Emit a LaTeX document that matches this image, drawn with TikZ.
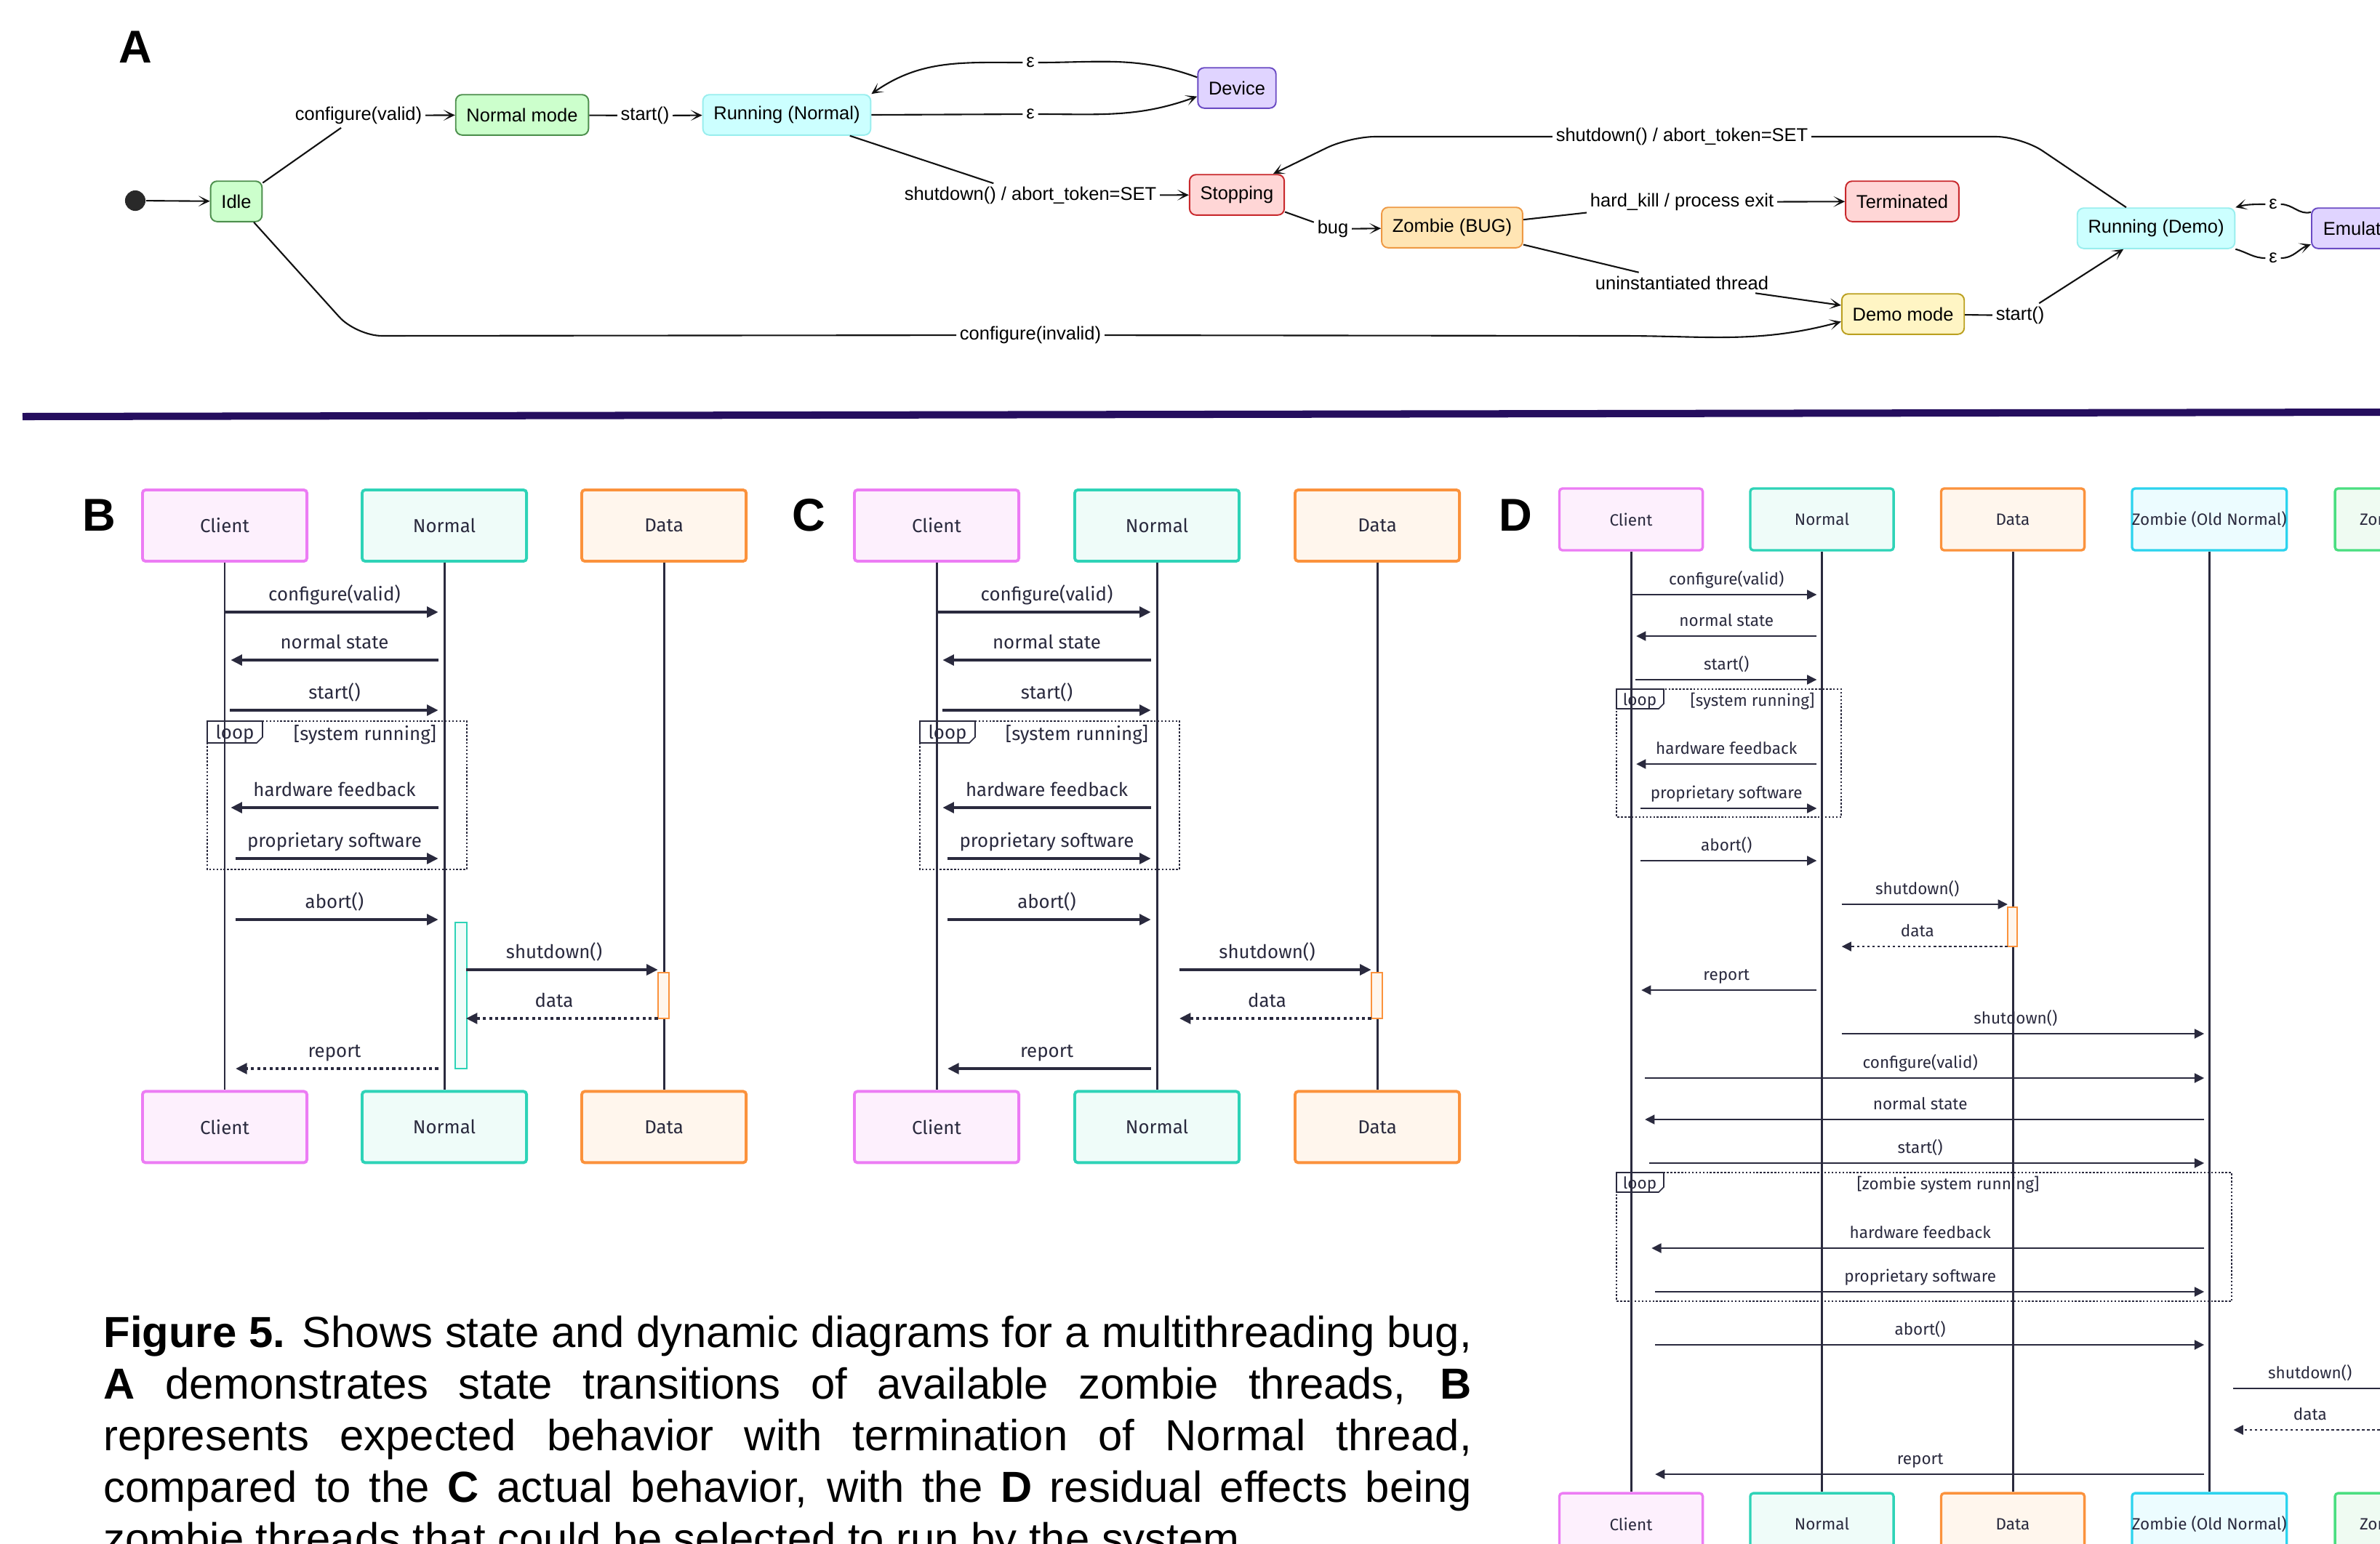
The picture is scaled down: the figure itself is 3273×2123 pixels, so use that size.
\documentclass[tikz,border=0pt]{standalone}
\usepackage{fontspec}
\setmainfont{Liberation Sans}
\newfontfamily\seqfont{Fira Sans}
\usetikzlibrary{arrows.meta,positioning}

\definecolor{ink}{HTML}{111111}
\definecolor{gfill}{HTML}{CCFFCC}
\definecolor{gdraw}{HTML}{4D8F4D}
\definecolor{cfill}{HTML}{CCFFFF}
\definecolor{cdraw}{HTML}{99EEEE}
\definecolor{vfill}{HTML}{E0D4FF}
\definecolor{vdraw}{HTML}{6A4BC4}
\definecolor{rfill}{HTML}{FFD6D6}
\definecolor{rdraw}{HTML}{C8282C}
\definecolor{ofill}{HTML}{FFE5B4}
\definecolor{odraw}{HTML}{EE9944}
\definecolor{yfill}{HTML}{FFF5C4}
\definecolor{ydraw}{HTML}{BBA020}
\definecolor{divider}{HTML}{250E5E}
\definecolor{seqink}{HTML}{2A2A3E}
\definecolor{clidraw}{HTML}{EC7CF4}
\definecolor{clifill}{HTML}{FDF0FD}
\definecolor{nordraw}{HTML}{2ED3B7}
\definecolor{norfill}{HTML}{EFFCF9}
\definecolor{datdraw}{HTML}{FB923C}
\definecolor{datfill}{HTML}{FFF6ED}
\definecolor{zodraw}{HTML}{2CD3EE}
\definecolor{zofill}{HTML}{ECFCFF}
\definecolor{zndraw}{HTML}{4ADE80}
\definecolor{znfill}{HTML}{EFFBF2}

\tikzset{
  stbox/.style={rectangle, draw, rounded corners=2.5pt, line width=0.55pt, minimum height=15.8pt, inner xsep=4.2pt, inner ysep=0pt, font=\fontsize{7.25}{8.5}\selectfont},
  stgreen/.style={stbox, fill=gfill, draw=gdraw},
  stcyan/.style={stbox, fill=cfill, draw=cdraw},
  stviolet/.style={stbox, fill=vfill, draw=vdraw},
  stred/.style={stbox, fill=rfill, draw=rdraw},
  storange/.style={stbox, fill=ofill, draw=odraw},
  styellow/.style={stbox, fill=yfill, draw=ydraw},
  trlbl/.style={inner sep=1.2pt, font=\fontsize{7.25}{8.5}\selectfont},
  tr/.style={line width=0.6pt, draw=ink},
  arr/.style={tr, -{Stealth[length=4.5pt,width=4.2pt,inset=2.6pt]}},
  panel/.style={inner sep=0pt, font=\bfseries\fontsize{18}{18}\selectfont},
  actor/.style={rectangle, draw, line width=1.1pt, rounded corners=1.2pt, minimum width=2.26cm, minimum height=0.98cm, inner sep=0pt, text=seqink, font=\seqfont\fontsize{7.35}{9}\selectfont},
  cliact/.style={actor, draw=clidraw, fill=clifill},
  noract/.style={actor, draw=nordraw, fill=norfill},
  datact/.style={actor, draw=datdraw, fill=datfill},
  dactor/.style={actor, minimum width=1.97cm, minimum height=0.85cm, line width=0.95pt, font=\seqfont\fontsize{6.4}{8}\selectfont},
  dcli/.style={dactor, draw=clidraw, fill=clifill},
  dnor/.style={dactor, draw=nordraw, fill=norfill},
  ddat/.style={dactor, draw=datdraw, fill=datfill},
  dzold/.style={dactor, minimum width=2.10cm, draw=zodraw, fill=zofill},
  dznew/.style={dactor, draw=zndraw, fill=znfill, text width=1.4cm, align=left, inner xsep=0.34cm},
  life/.style={draw=seqink, line width=0.85pt},
  msg/.style={draw=seqink, line width=0.95pt, shorten >=2.4pt, -{Triangle[length=4.4pt,width=4.2pt]}},
  ret/.style={msg, dash pattern=on 1.2pt off 1.2pt},
  msglbl/.style={midway, anchor=base, inner sep=0pt, text=seqink},
  lab/.style={msglbl, yshift=4.3pt, font=\seqfont\fontsize{7.35}{9}\selectfont},
  dmsg/.style={msg, line width=0.8pt, shorten >=2pt, -{Triangle[length=3.8pt,width=3.6pt]}},
  dret/.style={dmsg, dash pattern=on 1pt off 1pt},
  dlab/.style={msglbl, yshift=3.8pt, font=\seqfont\fontsize{6.4}{8}\selectfont},
  loopbox/.style={draw=seqink, line width=0.6pt, dash pattern=on 0.7pt off 0.7pt},
  looptab/.style={draw=seqink, line width=0.45pt},
  looptxt/.style={inner sep=0pt, text=seqink, font=\seqfont\fontsize{7.35}{9}\selectfont},
  dlooptxt/.style={looptxt, font=\seqfont\fontsize{6.4}{8}\selectfont},
  actnor/.style={draw=nordraw, fill=norfill, line width=0.5pt},
  actdat/.style={draw=datdraw, fill=datfill, line width=0.5pt}
}

\begin{document}
\begin{tikzpicture}[x=0.01cm, y=-0.01cm]
\useasboundingbox (0,0) rectangle (3273,2123);
\clip (0,0) rectangle (3273,2123);
\fill[white] (0,0) rectangle (3273,2123);

% ---- A: state diagram
\node[panel] (labA) at (186,65) {A};
\node[circle, fill=ink!90, minimum size=8pt, inner sep=0pt] (init) at (186,276) {};
\node[stgreen] (idle) at (325,277) {Idle};
\node[stgreen] (normal) at (718,158) {Normal mode};
\node[stcyan] (runN) at (1082,158) {Running (Normal)};
\node[stviolet] (device) at (1701,121) {Device};
\node[stred] (stopping) at (1701,268) {Stopping};
\node[storange] (zombie) at (1997,313) {Zombie (BUG)};
\node[stred] (term) at (2616,277) {Terminated};
\node[styellow] (demo) at (2617,432) {Demo mode};
\node[stcyan] (runD) at (2965,314) {Running (Demo)};
\node[stviolet, anchor=west, text width=1.6cm, align=left, inner xsep=4.5pt] (emul) at (3178,314) {Emulat};

\node[trlbl] (lcv) at (493,159) {configure(valid)};
\node[trlbl] (lst) at (887,159) {start()};
\node[trlbl] (epst) at (1417,86) {ε};
\node[trlbl] (epsb) at (1417,157) {ε};
\node[trlbl] (lsd) at (1417,269) {shutdown() / abort\_token=SET};
\node[trlbl] (lsd2) at (2313,188) {shutdown() / abort\_token=SET};
\node[trlbl] (lbug) at (1833,315) {bug};
\node[trlbl] (lhk) at (2313,278) {hard\_kill / process exit};
\node[trlbl] (lun) at (2313,389) {uninstantiated thread};
\node[trlbl] (linv) at (1417,461) {configure(invalid)};
\node[trlbl] (lst2) at (2778,434) {start()};
\node[trlbl] (epst2) at (3126,281) {ε};
\node[trlbl] (epsb2) at (3126,355) {ε};
\coordinate (k1) at (2780,188);
\coordinate (k2) at (1856,188);
\coordinate (k3) at (490,462);
\coordinate (k4) at (2230,462);

\draw[arr] (init) -- (idle);
\draw[tr] (idle) -- (lcv);
\draw[arr] (lcv) -- (normal);
\draw[tr] (normal) -- (lst);
\draw[arr] (lst) -- (runN);
\draw[tr] (runN.east) -- (epsb);
\draw[arr] (epsb) to[out=0, in=200] (device.192);
\draw[tr] (device.165) to[out=160, in=0] (epst);
\draw[arr] (epst) to[out=180, in=35] (runN.north east);
\draw[tr] (runN) -- (lsd);
\draw[arr] (lsd) -- (stopping);
\draw[tr, rounded corners=10pt] (runD.145) -- (k1) -- (lsd2);
\draw[arr, rounded corners=10pt] (lsd2) -- (k2) -- (stopping.30);
\draw[tr] (stopping) -- (lbug);
\draw[arr] (lbug) -- (zombie);
\draw[tr] (zombie) -- (lhk);
\draw[arr] (lhk) -- (term);
\draw[tr] (zombie) -- (lun);
\draw[arr] (lun) -- (demo);
\draw[tr, rounded corners=10pt] (idle.-50) -- (k3) -- (linv);
\draw[arr] (linv) -- (k4) to[out=0, in=195] (demo.187);
\draw[tr] (demo) -- (lst2);
\draw[arr] (lst2) -- (runD);
\draw[tr] ([yshift=6.3pt]emul.west) to[out=195, in=0] (epst2);
\draw[arr] (epst2) to[out=180, in=15] (runD.north east);
\draw[tr] (runD.south east) to[out=-15, in=180] (epsb2);
\draw[arr] (epsb2) to[out=0, in=200] ([yshift=-6.3pt]emul.west);

% divider
\draw[divider, line width=2.85pt] (31,573) -- (3273,567);

% ---- B: expected behaviour
\node[panel] (labB) at (136,709) {B};
\node[cliact] (cliB) at (309,723) {Client};
\node[noract, right=0.72cm of cliB] (norB) {Normal};
\node[datact, right=0.72cm of norB] (datB) {Data};
\node[cliact, below=7.25cm of cliB] (cliBb) {Client};
\node[noract, below=7.25cm of norB] (norBb) {Normal};
\node[datact, below=7.25cm of datB] (datBb) {Data};
\draw[life] (cliB) -- (cliBb);
\draw[life] (norB) -- (norBb);
\draw[life] (datB) -- (datBb);

\draw[loopbox] (285,992) rectangle (642,1196);
\draw[looptab] (285,992) -- (361,992) -- (361,1014) -- (353,1022) -- (285,1022) -- cycle;
\node[looptxt] (loopB) at (323,1010) {loop};
\node[looptxt] (condB) at (502,1011) {[system running]};

\draw[actnor] (626,1269) rectangle (642,1470);
\draw[actdat] (905,1338) rectangle (920,1401);

\draw[msg] (cliB |- 0,842) -- (norB |- 0,842) node[lab] {configure(valid)};
\draw[msg, shorten <=2.4pt] (norB |- 0,908) -- (cliB |- 0,908) node[lab] {normal state};
\draw[msg, shorten <=2pt] (cliB |- 0,977) -- (norB |- 0,977) node[lab] {start()};
\draw[msg, shorten <=2.4pt] (norB |- 0,1111) -- (cliB |- 0,1111) node[lab] {hardware feedback};
\draw[msg, shorten <=4.3pt] (cliB |- 0,1181) -- (norB |- 0,1181) node[lab] {proprietary software};
\draw[msg, shorten <=4.3pt] (cliB |- 0,1265) -- (norB |- 0,1265) node[lab] {abort()};
\draw[msg, shorten <=8.5pt] (norB |- 0,1334) -- (datB |- 0,1334) node[lab] {shutdown()};
\draw[ret, shorten <=2.4pt, shorten >=8.5pt] (datB |- 0,1401) -- (norB |- 0,1401) node[lab] {data};
\draw[ret, shorten <=2.4pt, shorten >=4.3pt] (norB |- 0,1470) -- (cliB |- 0,1470) node[lab] {report};

% ---- C: actual behaviour
\node[panel] (labC) at (1112,709) {C};
\node[cliact] (cliC) at (1288,723) {Client};
\node[noract, right=0.73cm of cliC] (norC) {Normal};
\node[datact, right=0.73cm of norC] (datC) {Data};
\node[cliact, below=7.25cm of cliC] (cliCb) {Client};
\node[noract, below=7.25cm of norC] (norCb) {Normal};
\node[datact, below=7.25cm of datC] (datCb) {Data};
\draw[life] (cliC) -- (cliCb);
\draw[life] (norC) -- (norCb);
\draw[life] (datC) -- (datCb);

\draw[loopbox] (1265,992) rectangle (1622,1196);
\draw[looptab] (1265,992) -- (1341,992) -- (1341,1014) -- (1333,1022) -- (1265,1022) -- cycle;
\node[looptxt] (loopC) at (1303,1010) {loop};
\node[looptxt] (condC) at (1481,1011) {[system running]};

\draw[actdat] (1886,1338) rectangle (1901,1401);

\draw[msg] (cliC |- 0,842) -- (norC |- 0,842) node[lab] {configure(valid)};
\draw[msg, shorten <=2.4pt] (norC |- 0,908) -- (cliC |- 0,908) node[lab] {normal state};
\draw[msg, shorten <=2.4pt] (cliC |- 0,977) -- (norC |- 0,977) node[lab] {start()};
\draw[msg, shorten <=2.4pt] (norC |- 0,1111) -- (cliC |- 0,1111) node[lab] {hardware feedback};
\draw[msg, shorten <=4.3pt] (cliC |- 0,1181) -- (norC |- 0,1181) node[lab] {proprietary software};
\draw[msg, shorten <=4.3pt] (cliC |- 0,1265) -- (norC |- 0,1265) node[lab] {abort()};
\draw[msg, shorten <=8.8pt] (norC |- 0,1334) -- (datC |- 0,1334) node[lab] {shutdown()};
\draw[ret, shorten <=2.4pt, shorten >=8.8pt] (datC |- 0,1401) -- (norC |- 0,1401) node[lab] {data};
\draw[msg, shorten <=2.4pt, shorten >=4.3pt] (norC |- 0,1470) -- (cliC |- 0,1470) node[lab] {report};

% ---- D: residual zombie threads
\node[panel] (labD) at (2084,709) {D};
\node[dcli] (cliD) at (2243,714.5) {Client};
\node[dnor, right=0.62cm of cliD] (norD) {Normal};
\node[ddat, right=0.62cm of norD] (datD) {Data};
\node[dzold, right=0.62cm of datD] (zoD) {Zombie (Old Normal)};
\node[dznew, right=0.63cm of zoD] (znD) {Zom};
\node[dcli, below=12.93cm of cliD] (cliDb) {Client};
\node[dnor, below=12.93cm of norD] (norDb) {Normal};
\node[ddat, below=12.93cm of datD] (datDb) {Data};
\node[dzold, below=12.93cm of zoD] (zoDb) {Zombie (Old Normal)};
\node[dznew, below=12.93cm of znD] (znDb) {Zom};
\draw[life] (cliD) -- (cliDb);
\draw[life] (norD) -- (norDb);
\draw[life] (datD) -- (datDb);
\draw[life] (zoD) -- (zoDb);
\draw[life] (znD) -- (znDb);

\draw[loopbox] (2223,948) rectangle (2532,1124);
\draw[looptab] (2223,948) -- (2288,948) -- (2288,968) -- (2281,975) -- (2223,975) -- cycle;
\node[dlooptxt] (loopD1) at (2255,964) {loop};
\node[dlooptxt] (condD1) at (2410,965) {[system running]};
\draw[loopbox] (2223,1613) rectangle (3069,1790);
\draw[looptab] (2223,1613) -- (2288,1613) -- (2288,1633) -- (2281,1640) -- (2223,1640) -- cycle;
\node[dlooptxt] (loopD2) at (2255,1629) {loop};
\node[dlooptxt] (condD2) at (2679,1630) {[zombie system running]};

\draw[actdat] (2761,1248) rectangle (2774,1302);

\draw[dmsg] (cliD |- 0,818) -- (norD |- 0,818) node[dlab] {configure(valid)};
\draw[dmsg, shorten <=2pt] (norD |- 0,875) -- (cliD |- 0,875) node[dlab] {normal state};
\draw[dmsg, shorten <=1.7pt] (cliD |- 0,935) -- (norD |- 0,935) node[dlab] {start()};
\draw[dmsg, shorten <=2pt] (norD |- 0,1051) -- (cliD |- 0,1051) node[dlab] {hardware feedback};
\draw[dmsg, shorten <=3.7pt] (cliD |- 0,1112) -- (norD |- 0,1112) node[dlab] {proprietary software};
\draw[dmsg, shorten <=3.7pt] (cliD |- 0,1184) -- (norD |- 0,1184) node[dlab] {abort()};
\draw[dmsg, shorten <=7.7pt] (norD |- 0,1244) -- (datD |- 0,1244) node[dlab] {shutdown()};
\draw[dret, shorten <=2pt, shorten >=7.7pt] (datD |- 0,1302) -- (norD |- 0,1302) node[dlab] {data};
\draw[dmsg, shorten <=2pt, shorten >=4pt] (norD |- 0,1362) -- (cliD |- 0,1362) node[dlab] {report};
\draw[dmsg, shorten <=7.7pt] (norD |- 0,1422) -- (zoD |- 0,1422) node[dlab] {shutdown()};
\draw[dmsg, shorten <=5.4pt] (cliD |- 0,1483) -- (zoD |- 0,1483) node[dlab] {configure(valid)};
\draw[dmsg, shorten <=2pt, shorten >=5.4pt] (zoD |- 0,1540) -- (cliD |- 0,1540) node[dlab] {normal state};
\draw[dmsg, shorten <=7.1pt] (cliD |- 0,1600) -- (zoD |- 0,1600) node[dlab] {start()};
\draw[dmsg, shorten <=2pt, shorten >=8pt] (zoD |- 0,1717) -- (cliD |- 0,1717) node[dlab] {hardware feedback};
\draw[dmsg, shorten <=9.4pt] (cliD |- 0,1777) -- (zoD |- 0,1777) node[dlab] {proprietary software};
\draw[dmsg, shorten <=9.4pt] (cliD |- 0,1850) -- (zoD |- 0,1850) node[dlab] {abort()};
\draw[dmsg, shorten <=9.4pt] (zoD |- 0,1910) -- (znD |- 0,1910) node[dlab] {shutdown()};
\draw[dret, shorten <=2pt, shorten >=9.4pt] (znD |- 0,1967) -- (zoD |- 0,1967) node[dlab] {data};
\draw[dmsg, shorten <=2pt, shorten >=9.4pt] (zoD |- 0,2028) -- (cliD |- 0,2028) node[dlab] {report};

% caption
\node[anchor=base west, text width=535pt, align=justify, inner sep=0pt, font=\fontsize{17}{20.2}\selectfont] (caption) at (142,1853)
  {\textbf{Figure 5.} Shows state and dynamic diagrams for a multithreading bug,\linebreak
   \textbf{A} demonstrates state transitions of available zombie threads, \textbf{B}\linebreak
   represents expected behavior with termination of Normal thread,\linebreak
   compared to the \textbf{C} actual behavior, with the \textbf{D} residual effects being\linebreak
   zombie threads that could be selected to run by the system.};
\end{tikzpicture}
\end{document}
